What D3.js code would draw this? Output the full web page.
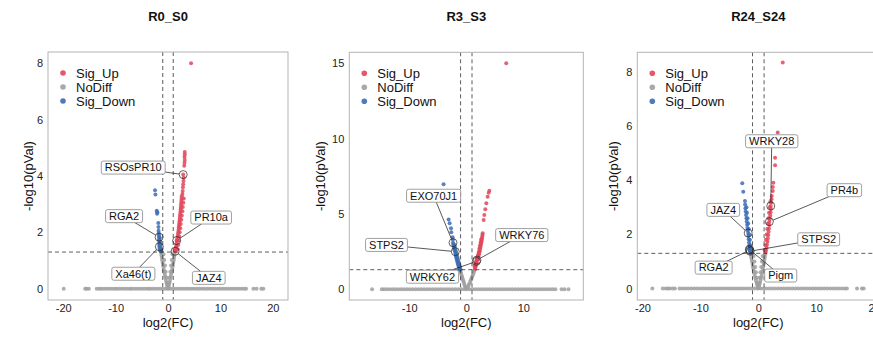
<!DOCTYPE html>
<html>
<head>
<meta charset="utf-8">
<script src="https://cdn.jsdelivr.net/npm/d3@7/dist/d3.min.js"></script>
<style>
    body { margin: 0; background: #fff; }
    text { font-family: "Liberation Sans", Arial, sans-serif; }
</style>
</head>
<body>
<script>
"use strict";

var groups = ["Sig_Up", "NoDiff", "Sig_Down"];
var titles = ["R0_S0", "R3_S3", "R24_S24"];

// ---- R0_S0 : [log2FC, -log10(pVal)]
var r0Up = [[4.4, 8.0],
    [3.2, 4.85], [3.2, 4.76], [3.15, 4.67], [3.2, 4.57], [3.15, 4.47], [3.1, 4.36], [2.9, 4.05], [3.0, 3.94],
    [2.95, 3.82], [2.9, 3.71], [2.85, 3.6], [2.8, 3.47], [2.75, 3.36],
    [2.62, 3.28], [2.58, 3.19], [2.55, 3.11], [2.52, 3.03], [2.47, 2.95], [2.44, 2.87], [2.4, 2.8], [2.36, 2.72],
    [2.32, 2.64], [2.28, 2.56], [2.24, 2.48], [2.19, 2.4], [2.15, 2.33], [2.1, 2.25], [2.06, 2.17], [2.01, 2.09],
    [1.96, 2.01], [1.91, 1.94], [1.86, 1.86], [1.8, 1.79], [1.65, 1.71], [1.72, 1.69], [1.62, 1.6], [1.55, 1.52],
    [1.49, 1.45], [1.42, 1.38], [1.35, 1.33],
    [1.85, 1.4], [1.94, 1.55], [2.04, 1.7], [2.14, 1.85], [2.24, 2.0], [2.33, 2.15], [2.43, 2.3], [2.53, 2.45],
    [2.63, 2.6], [2.73, 2.75], [2.82, 2.9], [2.92, 3.05], [3.0, 3.2]];
var r0Down = [[-2.48, 3.49], [-2.4, 3.34], [-2.15, 2.77], [-2.03, 2.71], [-2.08, 2.66],
    [-1.85, 2.33], [-1.82, 2.19], [-1.8, 2.06], [-1.76, 1.97], [-1.73, 1.9], [-1.7, 1.83], [-1.69, 1.76],
    [-1.67, 1.69], [-1.66, 1.62], [-1.65, 1.56], [-1.65, 1.49], [-1.58, 1.43], [-1.52, 1.37], [-1.4, 1.33],
    [-1.45, 1.55], [-1.42, 1.48], [-1.5, 1.68], [-1.55, 1.8], [-1.35, 1.4], [-1.28, 1.32]];
var r0NoDiff = [[-1.3, 1.27], [-1.25, 1.18], [-1.18, 1.1], [-1.1, 1.01], [-1.02, 0.92], [-0.94, 0.83], [-0.86, 0.75],
    [-0.77, 0.66], [-0.68, 0.57], [-0.6, 0.49], [-0.5, 0.4], [-0.41, 0.32], [-0.31, 0.23], [-0.22, 0.15],
    [-0.12, 0.07], [-0.05, 0.02], [-0.85, 1.22], [-0.72, 1.02], [-0.58, 0.82], [-0.44, 0.6], [-0.3, 0.4], [-0.16, 0.2],
    [1.3, 1.28], [1.24, 1.19], [1.17, 1.1], [1.09, 1.01], [1.01, 0.92], [0.93, 0.83], [0.85, 0.75], [0.76, 0.66],
    [0.67, 0.57], [0.58, 0.49], [0.49, 0.4], [0.4, 0.32], [0.31, 0.23], [0.21, 0.15], [0.12, 0.07], [0.05, 0.02],
    [0.85, 1.22], [0.72, 1.02], [0.58, 0.82], [0.44, 0.6], [0.3, 0.4], [0.16, 0.2]];
// genes with pVal = 1 (only log2FC)
var r0Zero = [-19.9, -15.8, -15.5, -15.1, -13.6, -13.1, -12.7, -12.2, -11.7, -11.2, -10.7, -10.2, -9.8, -9.3,
    -8.8, -8.3, -7.8, -7.3, -6.9, -6.4, -5.9, -5.4, -4.9, -4.4, -3.9, -3.5, -3.0, -2.5, -2.0, -1.5, -1.0, -0.5, 0,
    0.5, 1.0, 1.5, 2.0, 2.5, 3.0, 3.5, 4.0, 4.5, 5.0, 5.5, 6.0, 6.5, 7.0, 7.5, 8.0, 8.5, 9.0, 9.5, 10.0, 10.5,
    11.0, 11.5, 12.0, 12.5, 13.0, 13.5, 14.0, 14.5, 14.9, 16.3, 16.9, 17.8, 18.2];
var r0Genes = ["RSOsPR10", "RGA2", "PR10a", "Xa46(t)", "JAZ4"];
var r0GeneFC = [2.9, -1.7, 1.65, -1.65, 1.35];
var r0GeneP = [4.05, 1.83, 1.71, 1.49, 1.33];
var r0XTicks = [-20, -10, 0, 10, 20];
var r0YTicks = [0, 2, 4, 6, 8];

// ---- R3_S3
var r3Up = [[7.0, 15.0],
    [4.04, 6.54], [3.92, 6.41], [3.74, 6.14], [3.51, 5.71], [3.33, 5.31], [3.16, 4.93], [3.04, 4.6],
    [2.87, 3.72], [2.83, 3.6], [2.79, 3.48], [2.74, 3.37], [2.69, 3.25], [2.64, 3.13], [2.58, 3.01], [2.52, 2.89],
    [2.46, 2.77], [2.4, 2.65], [2.34, 2.53], [2.27, 2.42], [2.2, 2.31], [2.13, 2.2], [2.05, 2.09], [1.98, 1.99],
    [1.87, 1.94], [1.75, 1.85], [1.82, 1.78], [1.74, 1.67], [1.66, 1.56], [1.58, 1.46], [1.52, 1.37],
    [2.6, 3.3], [2.5, 3.1], [2.4, 2.9], [2.3, 2.7], [2.2, 2.5], [2.1, 2.35], [2.0, 2.2], [1.9, 2.05], [1.8, 1.95],
    [1.7, 1.8], [1.6, 1.65], [1.45, 1.5]];
var r3Down = [[-3.98, 6.97], [-3.1, 4.64], [-2.92, 4.38], [-2.68, 4.05], [-2.63, 3.78],
    [-2.4, 3.45], [-2.36, 3.3], [-2.33, 3.09], [-2.28, 2.96], [-2.2, 2.83], [-2.12, 2.7], [-2.05, 2.6], [-1.93, 2.5],
    [-1.9, 2.38], [-1.83, 2.25], [-1.76, 2.12], [-1.69, 2.0], [-1.61, 1.88], [-1.53, 1.76], [-1.45, 1.65],
    [-1.36, 1.55], [-1.27, 1.45], [-1.18, 1.36], [-1.1, 1.3],
    [-2.1, 2.95], [-2.0, 2.8], [-1.9, 2.65], [-1.8, 2.5], [-1.7, 2.35], [-1.6, 2.2], [-1.5, 2.05], [-1.4, 1.9],
    [-1.3, 1.75], [-1.2, 1.6], [-1.1, 1.45], [-1.0, 1.32]];
var r3NoDiff = [[-1.05, 1.25], [-0.98, 1.14], [-0.9, 1.03], [-0.82, 0.92], [-0.73, 0.81], [-0.64, 0.7], [-0.55, 0.59],
    [-0.46, 0.48], [-0.37, 0.37], [-0.27, 0.26], [-0.17, 0.16], [-0.08, 0.06],
    [1.45, 1.27], [1.35, 1.16], [1.24, 1.05], [1.13, 0.94], [1.02, 0.83], [0.91, 0.72], [0.8, 0.61], [0.68, 0.5],
    [0.56, 0.39], [0.43, 0.28], [0.29, 0.17], [0.14, 0.07]];
var r3Zero = [-16.5, -14.8, -14.4, -13.9, -13.4, -12.9, -12.4, -11.9, -11.4, -10.9, -10.4, -9.9, -9.4, -8.9, -8.4,
    -7.9, -7.4, -6.9, -6.4, -5.9, -5.4, -4.9, -4.4, -3.9, -3.4, -2.9, -2.4, -1.9, -1.4, -0.9, -0.4, 0.1, 0.6, 1.1,
    1.6, 2.1, 2.6, 3.1, 3.6, 4.1, 4.6, 5.1, 5.6, 6.1, 6.6, 7.1, 7.6, 8.1, 8.6, 9.1, 9.6, 10.1, 10.6, 11.1, 11.6,
    12.1, 12.6, 13.1, 13.6, 14.1, 14.6, 15.1, 15.6, 16.7, 17.2, 17.9];
var r3Genes = ["EXO70J1", "STPS2", "WRKY76", "WRKY62"];
var r3GeneFC = [-2.33, -1.93, 1.87, 1.75];
var r3GeneP = [3.09, 2.5, 1.94, 1.85];
var r3XTicks = [-10, 0, 10];
var r3YTicks = [0, 5, 10, 15];

// ---- R24_S24
var r24Up = [[4.22, 8.34],
    [3.36, 5.76], [2.9, 4.83], [2.9, 4.55], [2.6, 3.91], [2.5, 3.75], [2.5, 3.6],
    [2.32, 3.42], [2.29, 3.3], [2.25, 3.18], [2.15, 3.05], [2.18, 2.94], [2.12, 2.82], [2.07, 2.7], [2.01, 2.58],
    [1.91, 2.47], [1.9, 2.35], [1.84, 2.22], [1.78, 2.1], [1.72, 1.98], [1.65, 1.86], [1.58, 1.74], [1.5, 1.62],
    [1.42, 1.5], [1.33, 1.4], [1.22, 1.33],
    [2.05, 3.2], [1.97, 3.0], [1.86, 2.8], [1.76, 2.6], [1.66, 2.4], [1.55, 2.2], [1.44, 2.0], [1.33, 1.8],
    [1.22, 1.6], [1.12, 1.42]];
var r24Down = [[-2.77, 3.89], [-2.6, 3.57],
    [-2.3, 3.23], [-2.28, 3.1], [-2.22, 2.97], [-2.18, 2.85], [-2.12, 2.72], [-2.05, 2.6], [-2.0, 2.48],
    [-1.93, 2.36], [-1.88, 2.24], [-1.82, 2.14], [-1.75, 2.05], [-1.72, 1.94], [-1.66, 1.82], [-1.6, 1.7],
    [-1.55, 1.6], [-1.5, 1.5], [-1.45, 1.42], [-1.4, 1.38], [-1.48, 1.42], [-1.55, 1.45],
    [-2.05, 3.0], [-1.95, 2.8], [-1.85, 2.6], [-1.75, 2.4], [-1.65, 2.2], [-1.55, 2.0], [-1.45, 1.8],
    [-1.35, 1.6], [-1.28, 1.45], [-1.25, 1.33]];
var r24NoDiff = [[-1.3, 1.27], [-1.24, 1.18], [-1.17, 1.09], [-1.09, 1.0], [-1.01, 0.91], [-0.93, 0.82],
    [-0.85, 0.73], [-0.76, 0.64], [-0.67, 0.55], [-0.58, 0.46], [-0.49, 0.38], [-0.4, 0.3], [-0.3, 0.22],
    [-0.21, 0.14], [-0.11, 0.07], [-0.04, 0.02], [-0.8, 1.2], [-0.66, 1.0], [-0.53, 0.8], [-0.4, 0.6],
    [-0.27, 0.4], [-0.14, 0.2],
    [1.2, 1.27], [1.14, 1.18], [1.08, 1.09], [1.01, 1.0], [0.94, 0.91], [0.87, 0.82], [0.79, 0.73], [0.71, 0.64],
    [0.63, 0.55], [0.54, 0.46], [0.46, 0.38], [0.37, 0.3], [0.28, 0.22], [0.19, 0.14], [0.1, 0.07], [0.04, 0.02],
    [0.75, 1.2], [0.62, 1.0], [0.5, 0.8], [0.37, 0.6], [0.25, 0.4], [0.12, 0.2]];
var r24Zero = [-18.3, -16.5, -16.0, -15.6, -15.3, -14.8, -14.4, -13.6, -13.1, -12.6, -12.1, -11.6, -11.1, -10.6,
    -10.1, -9.6, -9.1, -8.6, -8.1, -7.6, -7.1, -6.6, -6.1, -5.6, -5.1, -4.6, -4.1, -3.6, -3.1, -2.6, -2.1, -1.6,
    -1.1, -0.6, -0.1, 0.4, 0.9, 1.4, 1.9, 2.4, 2.9, 3.4, 3.9, 4.4, 4.9, 5.4, 5.9, 6.4, 6.9, 7.4, 7.9, 8.4, 8.9,
    9.4, 9.9, 10.4, 10.9, 11.4, 11.9, 12.4, 12.9, 13.4, 13.9, 14.4, 14.9, 15.3, 17.05, 17.9, 18.2];
var r24Genes = ["WRKY28", "PR4b", "JAZ4", "STPS2", "RGA2", "Pigm"];
var r24GeneFC = [2.15, 1.91, -1.75, -1.4, -1.48, -1.55];
var r24GeneP = [3.05, 2.47, 2.05, 1.38, 1.42, 1.45];
var r24XTicks = [-20, -10, 0, 10, 20];
var r24YTicks = [0, 2, 4, 6, 8];

var fcCut = 1;
var pCut = -Math.log10(0.05);

// ---- layout
var w = 873;
var h = 338;
var colors = {Sig_Up: "#E2475B", NoDiff: "#A0A0A0", Sig_Down: "#3C6DB4"};

var panels = [
    {up: r0Up, down: r0Down, nodiff: r0NoDiff, zero: r0Zero, genes: r0Genes, fc: r0GeneFC, p: r0GeneP,
        xTicks: r0XTicks, yTicks: r0YTicks,
        left: 48, right: 288, top: 52, bottom: 300, xlim: [-22.9, 22.9], ylim: [-0.4, 8.4], yTitleX: 29,
        nudge: [[-50, -7], [-35, -21], [34.5, -23], [-26, 27], [33.7, 26.6]]},
    {up: r3Up, down: r3Down, nodiff: r3NoDiff, zero: r3Zero, genes: r3Genes, fc: r3GeneFC, p: r3GeneP,
        xTicks: r3XTicks, yTicks: r3YTicks,
        left: 349.3, right: 583.3, top: 52.3, bottom: 300, xlim: [-20.5, 20.5], ylim: [-0.71, 15.73], yTitleX: 321,
        nudge: [[-19.4, -47], [-68.8, -6.7], [44.8, -25], [-43.8, 15.3]]},
    {up: r24Up, down: r24Down, nodiff: r24NoDiff, zero: r24Zero, genes: r24Genes, fc: r24GeneFC, p: r24GeneP,
        xTicks: r24XTicks, yTicks: r24YTicks,
        left: 637.3, right: 879.3, top: 52.3, bottom: 300, xlim: [-20.9, 20.9], ylim: [-0.42, 8.72], yTitleX: 614,
        nudge: [[1, -64.7], [75, -31.5], [-24.9, -23.2], [68.5, -11.9], [-36.1, 17.5], [31.4, 26.2]]}
];

var svg = d3.select("body")
    .append("svg")
    .attr("width", w)
    .attr("height", h);

function drawPanel(p, i) {
    var x = d3.scaleLinear().domain(p.xlim).range([p.left, p.right]);
    var y = d3.scaleLinear().domain(p.ylim).range([p.bottom, p.top]);
    var g = svg.append("g");

    g.append("clipPath")
        .attr("id", "clip" + i)
        .append("rect")
        .attr("x", p.left).attr("y", p.top)
        .attr("width", p.right - p.left).attr("height", p.bottom - p.top);

    var plot = g.append("g").attr("clip-path", "url(#clip" + i + ")");

    //points: pVal = 1, NoDiff, Sig_Down, Sig_Up
    plot.append("g")
        .selectAll("circle")
        .data(p.zero)
        .enter()
        .append("circle")
        .attr("cx", function (d) { return x(d); })
        .attr("cy", y(0))
        .attr("r", 2)
        .attr("fill", colors.NoDiff)
        .attr("fill-opacity", 0.85);

    var sets = [["NoDiff", p.nodiff], ["Sig_Down", p.down], ["Sig_Up", p.up]];
    sets.forEach(function (s) {
        plot.append("g")
            .selectAll("circle")
            .data(s[1])
            .enter()
            .append("circle")
            .attr("cx", function (d) { return x(d[0]); })
            .attr("cy", function (d) { return y(d[1]); })
            .attr("r", 2)
            .attr("fill", colors[s[0]])
            .attr("fill-opacity", 0.85);
    });

    //threshold lines
    [-fcCut, fcCut].forEach(function (v) {
        plot.append("line")
            .attr("x1", x(v)).attr("x2", x(v))
            .attr("y1", p.top).attr("y2", p.bottom)
            .attr("stroke", "#333").attr("stroke-width", 0.8)
            .attr("stroke-dasharray", "4,3");
    });
    plot.append("line")
        .attr("x1", p.left).attr("x2", p.right)
        .attr("y1", y(pCut)).attr("y2", y(pCut))
        .attr("stroke", "#333").attr("stroke-width", 0.8)
        .attr("stroke-dasharray", "4,3");

    //border
    g.append("rect")
        .attr("x", p.left).attr("y", p.top)
        .attr("width", p.right - p.left).attr("height", p.bottom - p.top)
        .attr("fill", "none")
        .attr("stroke", "#b3b3b3")
        .attr("stroke-width", 1);

    //axes
    var fmt = function (d) { return String(d); };
    var xAxis = g.append("g")
        .attr("transform", "translate(0," + p.bottom + ")")
        .call(d3.axisBottom(x).tickValues(p.xTicks).tickFormat(fmt).tickSize(0).tickPadding(4));
    var yAxis = g.append("g")
        .attr("transform", "translate(" + p.left + ",0)")
        .call(d3.axisLeft(y).tickValues(p.yTicks).tickFormat(fmt).tickSize(0).tickPadding(5));
    [xAxis, yAxis].forEach(function (a) {
        a.select(".domain").remove();
        a.attr("font-family", "Liberation Sans, Arial, sans-serif")
            .attr("font-size", 11);
        a.selectAll("text").attr("fill", "#222");
    });

    g.append("text")
        .attr("x", (p.left + p.right) / 2)
        .attr("y", 327)
        .attr("text-anchor", "middle")
        .attr("font-size", 13)
        .attr("fill", "#111")
        .text("log2(FC)");

    g.append("text")
        .attr("transform", "translate(" + (p.yTitleX + 4) + "," + ((p.top + p.bottom) / 2) + ") rotate(-90)")
        .attr("text-anchor", "middle")
        .attr("font-size", 13)
        .attr("fill", "#111")
        .text("-log10(pVal)");

    g.append("text")
        .attr("x", (p.left + p.right) / 2)
        .attr("y", 21)
        .attr("text-anchor", "middle")
        .attr("font-size", 13)
        .attr("font-weight", "bold")
        .attr("fill", "#111")
        .text(titles[i]);

    //legend
    var leg = g.append("g")
        .selectAll("g")
        .data(groups)
        .enter()
        .append("g")
        .attr("transform", function (d, k) {
            return "translate(" + (p.left + 15) + "," + (p.top + 21 + k * 14) + ")";
        });
    leg.append("circle")
        .attr("r", 2.8)
        .attr("fill", function (d) { return colors[d]; })
        .attr("fill-opacity", 0.9);
    leg.append("text")
        .attr("x", 13)
        .attr("dy", "0.35em")
        .attr("font-size", 13)
        .attr("fill", "#111")
        .text(function (d) { return d; });

    //gene labels
    var segG = g.append("g");
    var ringG = g.append("g");
    var labG = g.append("g");
    p.genes.forEach(function (gene, k) {
        var px = x(p.fc[k]);
        var py = y(p.p[k]);
        var cx = px + p.nudge[k][0];
        var cy = py + p.nudge[k][1];

        var lab = labG.append("g");
        var rect = lab.append("rect");
        var t = lab.append("text")
            .attr("x", cx)
            .attr("y", cy)
            .attr("dy", "0.35em")
            .attr("text-anchor", "middle")
            .attr("font-size", 11)
            .attr("fill", "#111")
            .text(gene);
        var tw = t.node().getComputedTextLength();
        var bw = tw + 7;
        var bh = 13;
        rect.attr("x", cx - bw / 2)
            .attr("y", cy - bh / 2)
            .attr("width", bw)
            .attr("height", bh)
            .attr("rx", 2)
            .attr("fill", "#fff")
            .attr("stroke", "#888")
            .attr("stroke-width", 0.8);

        var vx = px - cx;
        var vy = py - cy;
        var len = Math.sqrt(vx * vx + vy * vy);
        var s = Math.min(Math.abs(vx) > 0 ? (bw / 2) / Math.abs(vx) : 1e9,
            Math.abs(vy) > 0 ? (bh / 2) / Math.abs(vy) : 1e9);
        if (s < 1) {
            segG.append("line")
                .attr("x1", cx + vx * s).attr("y1", cy + vy * s)
                .attr("x2", px - 4 * vx / len).attr("y2", py - 4 * vy / len)
                .attr("stroke", "#111")
                .attr("stroke-width", 0.7);
        }
        ringG.append("circle")
            .attr("cx", px).attr("cy", py).attr("r", 4)
            .attr("fill", "none")
            .attr("stroke", "#222")
            .attr("stroke-width", 0.7);
    });
}

panels.forEach(drawPanel);
</script>
</body>
</html>
